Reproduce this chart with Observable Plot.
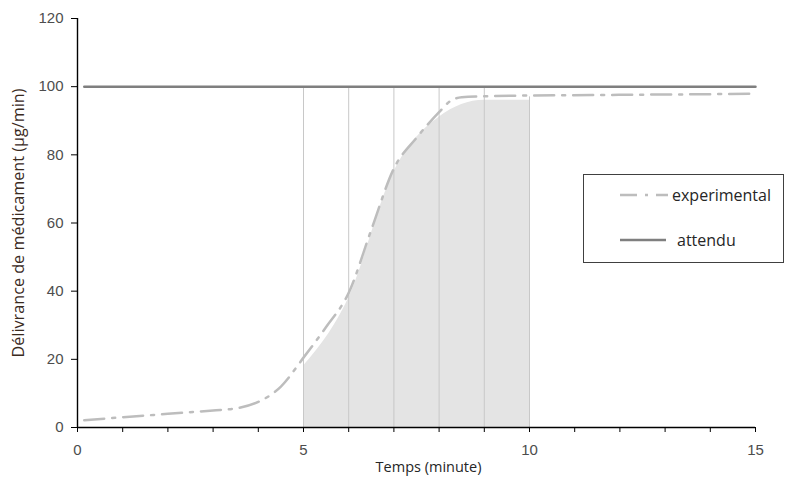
<!DOCTYPE html>
<html>
<head>
<meta charset="utf-8">
<script src="https://cdn.jsdelivr.net/npm/d3@7"></script>
<script src="https://cdn.jsdelivr.net/npm/@observablehq/plot@0.6"></script>
<style>
  html, body { margin: 0; padding: 0; background: #fff; }
  #wrap { position: relative; width: 790px; height: 480px; }
  #legend { position: absolute; left: 583px; top: 174px; width: 199px; height: 87px;
            border: 1px solid #404040; background: #fff; }
</style>
</head>
<body>
<div id="wrap"></div>
<script>
// ---- data ----
const expX = [0.15, 1, 2, 3, 3.5, 4, 4.5, 5, 5.5, 6, 6.5, 7, 7.5, 8, 8.25, 8.5, 9, 10, 12, 15];
const expY = [2.1, 3, 4, 5, 5.6, 7.5, 12, 20.5, 29.5, 39.5, 58, 76, 85, 92.5, 95.8, 96.9, 97.2, 97.4, 97.6, 97.9];
const expectedX = [0.15, 15];
const expectedY = [100, 100];
const fillX = [5, 6, 7, 8, 9, 10];
const fillY = [18, 38, 75, 91, 96, 96];
const gridX = [5, 6, 7, 8, 9, 10];
const gridTop = [100, 100, 100, 100, 100, 97];
const xTicks = d3.range(0, 16);
const xLabels = [0, 5, 10, 15];
const yTicks = [0, 20, 40, 60, 80, 100, 120];
const xTitle = "Temps (minute)";
const yTitle = "Délivrance de médicament (µg/min)";
const seriesNames = ["experimental", "attendu"];

const experimental = expX.map((x, i) => ({x, y: expY[i]}));
const expected = expectedX.map((x, i) => ({x, y: expectedY[i]}));
const fill = fillX.map((x, i) => ({x, y: fillY[i]}));
const grid = gridX.map((x, i) => ({x, y2: gridTop[i]}));

const dash = "20,8,3,8";
const titleFont = "'Open Sans', sans-serif";

const chart = Plot.plot({
  width: 790,
  height: 480,
  marginLeft: 77,
  marginRight: 35,
  marginTop: 18,
  marginBottom: 53,
  style: {fontFamily: "'Liberation Sans', Arial, sans-serif", fontSize: "15px", background: "#fff"},
  x: {domain: [0, 15]},
  y: {domain: [0, 120]},
  marks: [
    Plot.areaY(fill, {x: "x", y: "y", curve: "monotone-x", fill: "#e4e4e4"}),
    Plot.ruleX(grid, {x: "x", y1: 0, y2: "y2", stroke: "#c8c8c8", strokeWidth: 1}),
    Plot.line(expected, {x: "x", y: "y", stroke: "#7f7f7f", strokeWidth: 2.5}),
    Plot.line(experimental, {x: "x", y: "y", curve: "monotone-x", stroke: "#bdbdbd", strokeWidth: 2.5, strokeDasharray: dash}),
    Plot.axisY({ticks: yTicks, tickSize: 6, tickPadding: 8, label: null, stroke: "#000", fill: "#4d4d4d"}),
    Plot.axisX({ticks: xTicks, tickSize: 5, tickPadding: 12, label: null, stroke: "#000", fill: "#4d4d4d",
                tickFormat: d => xLabels.includes(d) ? String(d) : ""}),
    Plot.ruleX([0], {stroke: "#000", strokeWidth: 1.4}),
    Plot.ruleY([0], {stroke: "#000", strokeWidth: 1.4}),
    Plot.text([xTitle], {frameAnchor: "bottom", dx: 12, dy: 40, text: d => d, fontFamily: titleFont, fontSize: 14.5, fill: "#262626", lineAnchor: "middle"}),
    Plot.text([yTitle], {frameAnchor: "left", dx: -59, rotate: -90, textAnchor: "middle", text: d => d, fontFamily: titleFont, fontSize: 16.2, fill: "#3a2a1e", lineAnchor: "middle"})
  ]
});

const wrap = document.getElementById("wrap");
wrap.appendChild(chart);

// legend
const legend = document.createElement("div");
legend.id = "legend";
wrap.appendChild(legend);
const ls = d3.select(legend).append("svg").attr("width", 199).attr("height", 87)
  .style("font-family", titleFont).style("font-size", "16px");
ls.append("line").attr("x1", 36).attr("x2", 84).attr("y1", 20).attr("y2", 20)
  .attr("stroke", "#bdbdbd").attr("stroke-width", 2.5).attr("stroke-dasharray", "17,8,3,8");
ls.append("text").attr("x", 88).attr("y", 20).attr("dy", "0.35em").attr("fill", "#262626").text(seriesNames[0]);
ls.append("line").attr("x1", 36).attr("x2", 82).attr("y1", 65).attr("y2", 65)
  .attr("stroke", "#7f7f7f").attr("stroke-width", 2.5);
ls.append("text").attr("x", 93).attr("y", 65).attr("dy", "0.35em").attr("fill", "#262626").text(seriesNames[1]);
</script>
</body>
</html>
